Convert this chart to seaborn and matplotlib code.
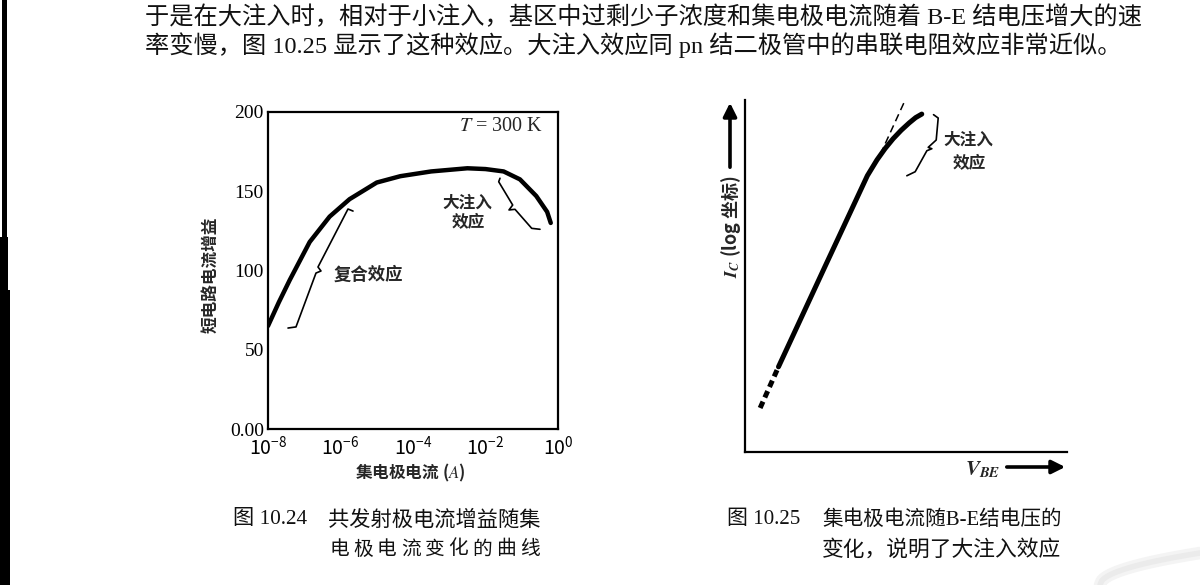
import numpy as np
import pandas as pd
import matplotlib
matplotlib.use("Agg")
import matplotlib.pyplot as plt
import seaborn as sns
from matplotlib.patches import Rectangle, FancyArrowPatch
from matplotlib.lines import Line2D

sns.set_theme(style="white")
plt.rcParams['font.family'] = ['Noto Sans CJK SC', 'DejaVu Sans']
plt.rcParams['mathtext.fontset'] = 'stix'
plt.rcParams['axes.unicode_minus'] = False

# ---------------- data ----------------
# Fig 10.24: common-emitter current gain vs collector current
gain_log_ic = [-8.0, -7.7, -7.4, -6.85, -6.3, -5.75, -5.0, -4.35, -3.5, -2.5,
               -2.0, -1.5, -1.05, -0.6, -0.3, -0.2]
gain_values = [65, 80, 94, 118, 134, 145, 155.5, 159.5, 162.5, 164.5,
               164, 162.5, 157.5, 147, 137, 130]
gain_yticks = [0, 50, 100, 150, 200]
gain_yticklabels = ['0.00', '50', '100', '150', '200']
gain_xticks = [1e-8, 1e-6, 1e-4, 1e-2, 1e0]

# Fig 10.25: Ic (log) vs V_BE (arbitrary units)
vbe_solid = [1.04, 2.5, 3.8, 4.1, 4.35, 4.6, 4.85, 5.1, 5.3, 5.49]
ic_solid = [2.42, 5.3, 7.85, 8.3, 8.62, 8.9, 9.14, 9.35, 9.5, 9.6]
vbe_low = [0.47, 1.04]
ic_low = [1.25, 2.42]
vbe_ideal = [4.2, 4.95]
ic_ideal = [8.45, 9.95]

# annotation braces
brace1_log = [-7.448, -7.228, -6.676, -6.538, -6.621, -5.793, -5.655]
brace1_val = [63.7, 64.4, 98.4, 99.7, 102.2, 138.8, 137.5]
brace2_log = [-1.600, -1.636, -1.250, -1.352, -1.186, -0.725, -0.497]
brace2_val = [158.2, 156.0, 141.3, 138.2, 138.6, 126.6, 126.0]
brace3_x = [5.855, 6.000, 5.938, 5.689, 5.803, 5.648, 5.285, 5.026]
brace3_y = [9.583, 9.488, 8.863, 8.654, 8.616, 8.559, 7.962, 7.848]

top_line1 = "于是在大注入时，相对于小注入，基区中过剩少子浓度和集电极电流随着 B-E 结电压增大的速"
top_line2 = "率变慢，图 10.25 显示了这种效应。大注入效应同 pn 结二极管中的串联电阻效应非常近似。"
cap1_num = "图 10.24"
cap1_l1 = "共发射极电流增益随集"
cap1_l2 = "电极电流变化的曲线"
cap2_num = "图 10.25"
cap2_l1 = "集电极电流随B-E结电压的"
cap2_l2 = "变化，说明了大注入效应"

W, H = 1200, 585
fig = plt.figure(figsize=(12, 5.85), dpi=100, facecolor='white')
MIXED = ['Liberation Serif', 'Noto Sans CJK SC', 'DejaVu Sans']


def fx(px):
    return px / W


def fy(py):
    return 1 - py / H


# ---------------- left chart ----------------
ax1 = fig.add_axes([fx(268), fy(429), (558 - 268) / W, (429 - 112) / H])
ax1.set_xscale('log')
df1 = pd.DataFrame({'ic': 10 ** np.array(gain_log_ic), 'gain': gain_values})
sns.lineplot(data=df1, x='ic', y='gain', ax=ax1, color='black', lw=3.2,
             solid_capstyle='round')
ax1.plot(10 ** np.array(brace1_log), brace1_val, color='black', lw=1.2)
ax1.plot(10 ** np.array(brace2_log), brace2_val, color='black', lw=1.2)
ax1.set_xlim(1e-8, 1e0)
ax1.set_ylim(0, 200)
ax1.set_xticks(gain_xticks)
ax1.xaxis.set_minor_locator(matplotlib.ticker.NullLocator())
ax1.set_yticks(gain_yticks)
ax1.set_yticklabels(gain_yticklabels, family='Liberation Serif')
ax1.tick_params(axis='both', direction='in', length=5, width=1.3, color='black',
                labelsize=14, labelcolor='black')
ax1.tick_params(axis='y', pad=3)
ax1.tick_params(axis='x', pad=5)
for s in ax1.spines.values():
    s.set_color('black')
    s.set_linewidth(1.6)
ax1.set_xlabel('集电极电流 ($\\mathit{A}$)', fontsize=12, fontweight='bold')
ax1.xaxis.set_label_coords((410 - 268) / 290, (429 - 462) / 317)
ax1.set_ylabel('短电路电流增益', fontsize=12, fontweight='bold')
ax1.yaxis.set_label_coords((219 - 268) / 290, (429 - 275) / 317)
ax1.text(10 ** -1.57, 191, '$T$ = 300 K', family='Liberation Serif',
         fontsize=14.5, ha='center', va='center')
ax1.text(10 ** -5.24, 97.2, '复合效应', fontsize=12.5, fontweight='bold',
         ha='center', va='center')
ax1.text(10 ** -2.51, 142.6, '大注入', fontsize=12, fontweight='bold',
         ha='center', va='center')
ax1.text(10 ** -2.48, 131.2, '效应', fontsize=12, fontweight='bold',
         ha='center', va='center')

# ---------------- right chart ----------------
ax2 = fig.add_axes([fx(745), fy(452), 322 / W, 352 / H])
df_solid = pd.DataFrame({'vbe': vbe_solid, 'ic': ic_solid})
sns.lineplot(data=df_solid, x='vbe', y='ic', ax=ax2, color='black', lw=3.6,
             solid_capstyle='round', solid_joinstyle='round')
ax2.plot(vbe_low, ic_low, color='black', lw=3.6, linestyle=(0, (1.4, 0.9)))
ax2.plot(vbe_ideal, ic_ideal, color='black', lw=1.1, linestyle=(0, (5, 3)))
ax2.plot(brace3_x, brace3_y, color='black', lw=1.2)
ax2.set_xlim(0, 10)
ax2.set_ylim(0, 10)
ax2.set_xticks([])
ax2.set_yticks([])
ax2.set_xlabel('')
ax2.set_ylabel('')
for k in ['top', 'right']:
    ax2.spines[k].set_visible(False)
for k in ['left', 'bottom']:
    ax2.spines[k].set_color('black')
    ax2.spines[k].set_linewidth(1.6)
ax2.text(6.93, 8.86, '大注入', fontsize=12, fontweight='bold', ha='center', va='center')
ax2.text(6.96, 8.24, '效应', fontsize=12, fontweight='bold', ha='center', va='center')

fig.text(fx(731), fy(226), '$\\mathbfit{I}_{\\mathbfit{C}}$ (log 坐标)', rotation=90,
         fontsize=13, fontweight='bold', ha='center', va='center')
fig.add_artist(FancyArrowPatch((fx(730), fy(170)), (fx(730), fy(100)),
                               transform=fig.transFigure, arrowstyle='-|>',
                               mutation_scale=20, lw=2.6, color='black'))
fig.text(fx(983), fy(469), '$\\mathbfit{V}_{\\mathbfit{BE}}$', fontsize=15,
         ha='center', va='center')
fig.add_artist(FancyArrowPatch((fx(1004), fy(467)), (fx(1068), fy(467)),
                               transform=fig.transFigure, arrowstyle='-|>',
                               mutation_scale=20, lw=2.6, color='black'))

# ---------------- page text ----------------
renderer = fig.canvas.get_renderer()


def fit_text(x0, x1, y, s, size, **kw):
    t = fig.text(fx(x0), fy(y), s, fontsize=size, ha='left', va='center',
                 family=MIXED, color='#111111', **kw)
    w = t.get_window_extent(renderer).width
    t.set_fontsize(size * (x1 - x0) / w)
    return t


def spread(x0, x1, y, chars, size):
    xs = np.linspace(x0, x1, len(chars))
    for c, xx in zip(chars, xs):
        fig.text(fx(xx), fy(y), c, fontsize=size, ha='center', va='center',
                 family=MIXED, color='#111111')


fit_text(145, 1141, 17, top_line1, 17)
fit_text(145, 1122, 45, top_line2, 17)
fit_text(233, 307, 520, cap1_num, 13)
fit_text(328, 541, 520, cap1_l1, 14)
spread(339, 530, 550, cap1_l2, 14.2)
fit_text(727, 800, 520, cap2_num, 13)
fit_text(822, 1062, 520, cap2_l1, 14)
fit_text(822, 1062, 550, cap2_l2, 14)

# scanned page edge (black strip on the left)
fig.add_artist(Rectangle((0, 0), fx(10), (585 - 290) / H, transform=fig.transFigure,
                         color='black', lw=0))
fig.add_artist(Rectangle((0, fy(292)), fx(7.5), 55 / H, transform=fig.transFigure,
                         color='black', lw=0))
fig.add_artist(Rectangle((fx(2), fy(240)), fx(5), 240 / H, transform=fig.transFigure,
                         color='black', lw=0))

# faint page curl bottom-right
tt = np.linspace(0, 1, 60)
cx = 1100 + 100 * tt
cy = 585 - 32 * np.sqrt(tt)
for lw_, col in [(9, '#f4f4f4'), (4, '#ebebeb')]:
    fig.add_artist(Line2D(fx(cx), fy(cy), transform=fig.transFigure, lw=lw_,
                          color=col, solid_capstyle='round'))

fig.savefig('out.png', dpi=100, facecolor='white')
